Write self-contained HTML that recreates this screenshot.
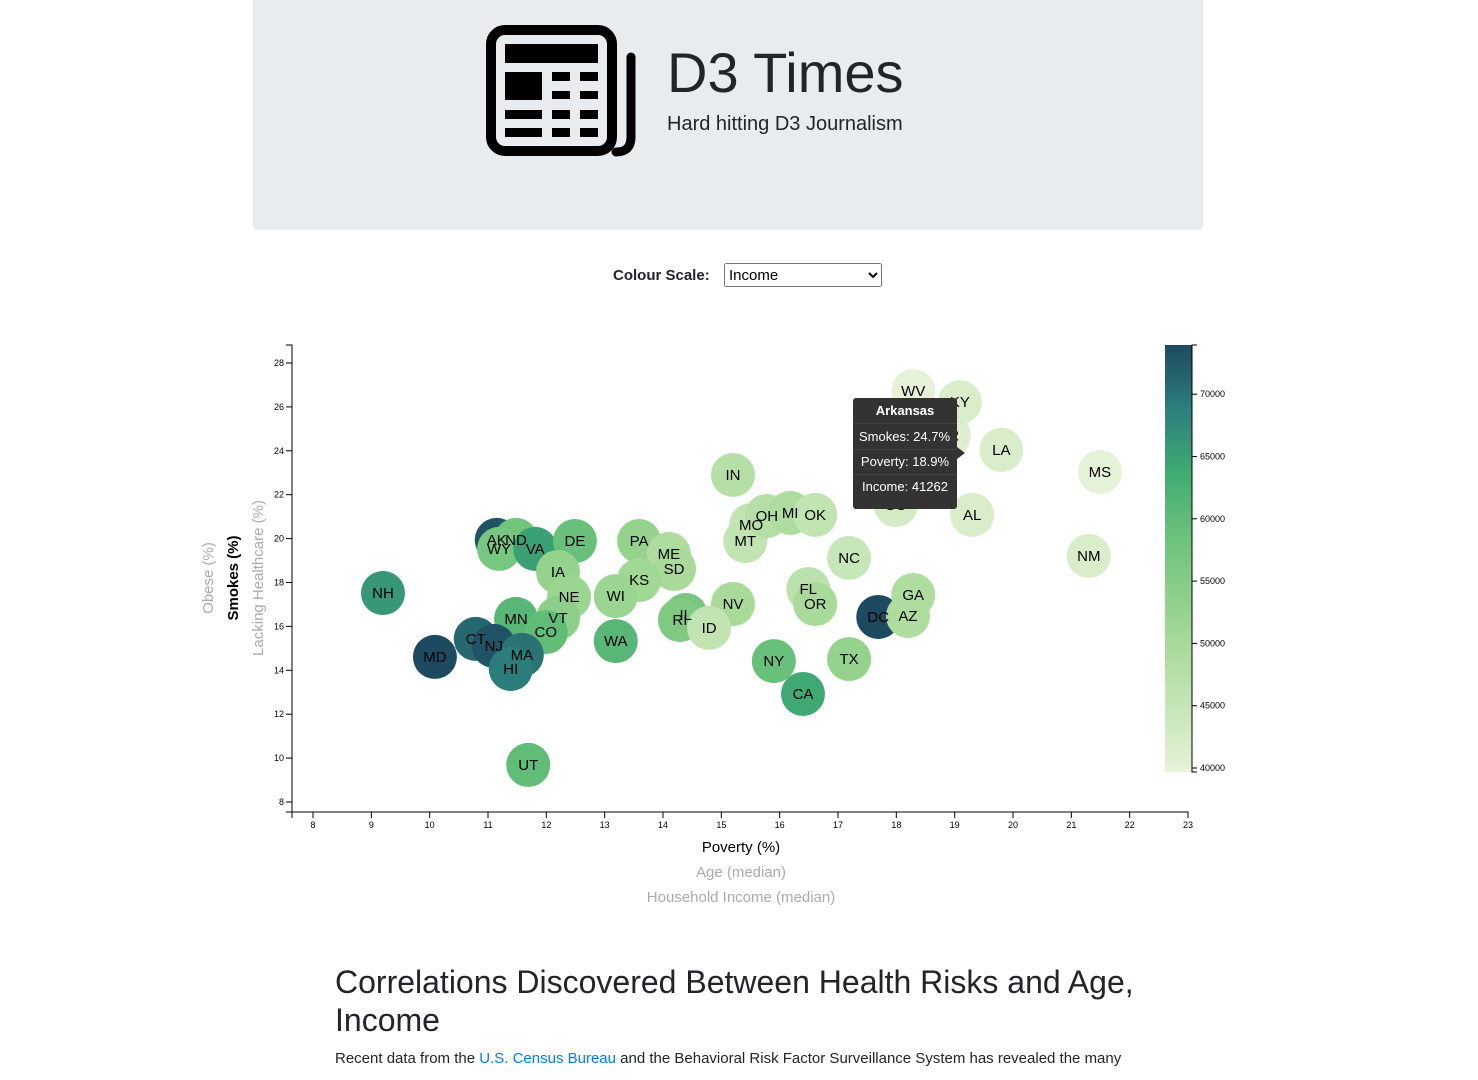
<!DOCTYPE html>
<html><head><meta charset="utf-8"><style>
body{margin:0;width:1478px;height:1080px;overflow:hidden;background:#fff;font-family:"Liberation Sans",sans-serif;color:#212529;position:relative}
.hdr{position:absolute;left:253px;top:0;width:950px;height:230px;background:#e9ecef;border-radius:0 0 4px 4px}
.abs{position:absolute;white-space:nowrap}
select{font-family:"Liberation Sans",sans-serif}
</style></head><body>
<div class="hdr"></div>
<svg class="abs" style="left:480px;top:15px" width="170" height="150">
<rect x="11" y="15" width="121" height="121" rx="14" fill="none" stroke="#000" stroke-width="10"/>
<path d="M151 42 V122 Q151 137 136 137" fill="none" stroke="#000" stroke-width="9" stroke-linecap="round"/>
<rect x="25" y="29" width="93" height="19" fill="#000"/>
<rect x="25" y="57" width="37" height="28" fill="#000"/>
<rect x="72" y="57" width="18" height="9" fill="#000"/><rect x="100" y="57" width="18" height="9" fill="#000"/>
<rect x="72" y="76" width="18" height="8" fill="#000"/><rect x="100" y="76" width="18" height="8" fill="#000"/>
<rect x="25" y="95" width="37" height="9" fill="#000"/><rect x="72" y="95" width="18" height="9" fill="#000"/><rect x="100" y="95" width="18" height="9" fill="#000"/>
<rect x="25" y="113" width="37" height="9" fill="#000"/><rect x="72" y="113" width="18" height="9" fill="#000"/><rect x="100" y="113" width="18" height="9" fill="#000"/>
</svg>
<div class="abs" style="left:667px;top:40px;font-size:56px;color:#212529">D3 Times</div>
<div class="abs" style="left:667px;top:113px;font-size:20px;color:#212529">Hard hitting D3 Journalism</div>
<div class="abs" style="left:613px;top:267px;font-size:15px;font-weight:bold">Colour Scale:</div>
<select class="abs" style="left:724px;top:263px;width:158px;height:24px;font-size:15px"><option>Income</option></select>

<svg id="chart" class="abs" style="left:0;top:0" width="1478" height="920">
<defs><linearGradient id="lg" x1="0" y1="1" x2="0" y2="0">
<stop offset="0" stop-color="#e5f2d8"/><stop offset="0.3" stop-color="#a8da98"/><stop offset="0.55" stop-color="#6cc27a"/><stop offset="0.7" stop-color="#41ab73"/><stop offset="0.85" stop-color="#2c7f7c"/><stop offset="1" stop-color="#1d4a60"/></linearGradient></defs>
</svg>

<div class="abs" style="left:853px;top:398px;width:104px;height:111px;background:#333;border-radius:3px;color:#fff;font-size:13px;text-align:center">
<div style="font-weight:bold;margin-top:5px;height:20px">Arkansas</div>
<div style="border-top:1px solid #444;padding-top:5px;height:20px;text-align:left;padding-left:6px">Smokes: 24.7%</div>
<div style="border-top:1px solid #444;padding-top:4px;height:20px">Poverty: 18.9%</div>
<div style="border-top:1px solid #444;padding-top:4px;height:20px">Income: 41262</div>
</div>
<div class="abs" style="left:957px;top:447px;width:0;height:0;border-top:6px solid transparent;border-bottom:6px solid transparent;border-left:8px solid #333"></div>

<div class="abs" style="left:335px;top:963px;font-size:32px;line-height:38px;color:#212529">Correlations Discovered Between Health Risks and Age,<br>Income</div>
<div class="abs" style="left:335px;top:1050px;font-size:15px">Recent data from the <span style="color:#007bff">U.S. Census Bureau</span> and the Behavioral Risk Factor Surveillance System has revealed the many</div>

<script>
const states=["AK","ND","WY","VA","DE","PA","ME","SD","IA","KS","NE","WI","VT","MN","CO","WA","CT","NJ","MA","HI","MD","NH","UT","IN","MO","MT","OH","MI","OK","NC","FL","OR","NV","IL","RI","ID","NY","CA","TX","DC","GA","AZ","SC","TN","AR","WV","KY","LA","AL","MS","NM"];
const poverty=[11.15,11.48,11.19,11.81,12.49,13.59,14.1,14.19,12.2,13.59,12.39,13.19,12.2,11.48,11.99,13.19,10.79,11.1,11.58,11.39,10.09,9.2,11.69,15.2,15.51,15.41,15.78,16.18,16.61,17.19,16.49,16.61,15.2,14.39,14.29,14.79,15.9,16.4,17.19,17.69,18.29,18.2,17.99,18.17,18.9,18.29,19.09,19.8,19.3,21.49,21.3];
const smokes=[19.94,19.94,19.53,19.53,19.89,19.89,19.3,18.62,18.48,18.11,17.34,17.38,16.38,16.34,15.74,15.33,15.43,15.11,14.7,14.06,14.61,17.52,9.69,22.9,20.62,19.89,21.03,21.17,21.08,19.12,17.7,17.02,17.02,16.52,16.29,15.93,14.42,12.92,14.51,16.43,17.43,16.47,21.53,24.17,24.7,26.72,26.22,24.04,21.08,23.03,19.21];
const income=[73000,58000,57000,65000,59000,53000,49000,50000,53000,51000,52000,52000,54000,61000,60000,61000,71000,73000,70000,69000,76000,66000,60000,48000,46000,46000,48000,49000,46000,45000,47000,50000,50000,57000,56000,46000,59000,64000,53000,75000,49000,49000,43000,43000,41262,40000,42000,42000,42000,39000,42000];
const xTicks=[8,9,10,11,12,13,14,15,16,17,18,19,20,21,22,23];
const yTicks=[8,10,12,14,16,18,20,22,24,26,28];
const legendTicks=[40000,45000,50000,55000,60000,65000,70000];

const NS="http://www.w3.org/2000/svg";
const svg=document.getElementById('chart');
const xS=v=>313+(v-8)*58.333;
const yS=v=>802-(v-8)*21.95;
const lS=v=>768-(v-40000)/5000*62.3;
const stops=[[0,[229,242,216]],[0.3,[168,218,152]],[0.55,[108,194,122]],[0.7,[65,171,115]],[0.85,[44,127,124]],[1,[29,74,96]]];
function col(v){let t=Math.max(0,Math.min(1,(v-40000)/(73900-40000)));for(let i=1;i<stops.length;i++){if(t<=stops[i][0]){const a=stops[i-1],b=stops[i],f=(t-a[0])/(b[0]-a[0]);return 'rgb('+a[1].map((c,k)=>Math.round(c+(b[1][k]-c)*f)).join(',')+')';}}return 'rgb(29,74,96)';}
function mk(tag,attrs,parent){const e=document.createElementNS(NS,tag);for(const k in attrs)e.setAttribute(k,attrs[k]);(parent||svg).appendChild(e);return e;}

const xa=mk('g',{});


mk('path',{d:'M292,818V812H1188V818',fill:'none',stroke:'#000'},xa);
xTicks.forEach(t=>{mk('line',{x1:xS(t),x2:xS(t),y1:812,y2:818,stroke:'#000'},xa);const tx=mk('text',{x:xS(t),y:828,'font-size':9,'text-anchor':'middle'},xa);tx.textContent=t;

});
const ya=mk('g',{});


mk('path',{d:'M286,345H292V812H286',fill:'none',stroke:'#000'},ya);
yTicks.forEach(t=>{mk('line',{x1:286,x2:292,y1:yS(t),y2:yS(t),stroke:'#000'},ya);const tx=mk('text',{x:284,y:yS(t)+3,'font-size':9,'text-anchor':'end'},ya);tx.textContent=t;

});

const g=mk('g',{});
states.forEach((s,i)=>{const c=mk('circle',{cx:xS(poverty[i]),cy:yS(smokes[i]),r:22,fill:col(income[i])},g);

});
states.forEach((s,i)=>{const t=mk('text',{x:xS(poverty[i]),y:yS(smokes[i])+5,'font-size':15,'text-anchor':'middle',fill:'#000'},g);t.textContent=s;

});

const lg=mk('g',{});


mk('rect',{x:1165,y:345,width:27,height:427,fill:'url(#lg)'},lg);
mk('path',{d:'M1197,345H1192V772H1197',fill:'none',stroke:'#000'},lg);
legendTicks.forEach(t=>{mk('line',{x1:1192,x2:1197,y1:lS(t),y2:lS(t),stroke:'#000'},lg);const tx=mk('text',{x:1200,y:lS(t)+3,'font-size':9},lg);tx.textContent=t;

});

function lab(txt,x,y,opts,name,inter){const t=mk('text',Object.assign({x:x,y:y,'text-anchor':'middle','font-size':15},opts));t.textContent=txt;

}
lab('Poverty (%)',741,852,{fill:'#000'},'x-axis-title-poverty','true');
lab('Age (median)',741,877,{fill:'#aaa'},'x-axis-title-age','true');
lab('Household Income (median)',741,902,{fill:'#aaa'},'x-axis-title-income','true');
lab('Obese (%)',0,0,{fill:'#aaa',transform:'translate(213,578) rotate(-90)'},'y-axis-title-obese','true');
lab('Smokes (%)',0,0,{fill:'#000','font-weight':'bold',transform:'translate(238,578) rotate(-90)'},'y-axis-title-smokes','true');
lab('Lacking Healthcare (%)',0,0,{fill:'#aaa',transform:'translate(263,578) rotate(-90)'},'y-axis-title-healthcare','true');
</script>
</body></html>
